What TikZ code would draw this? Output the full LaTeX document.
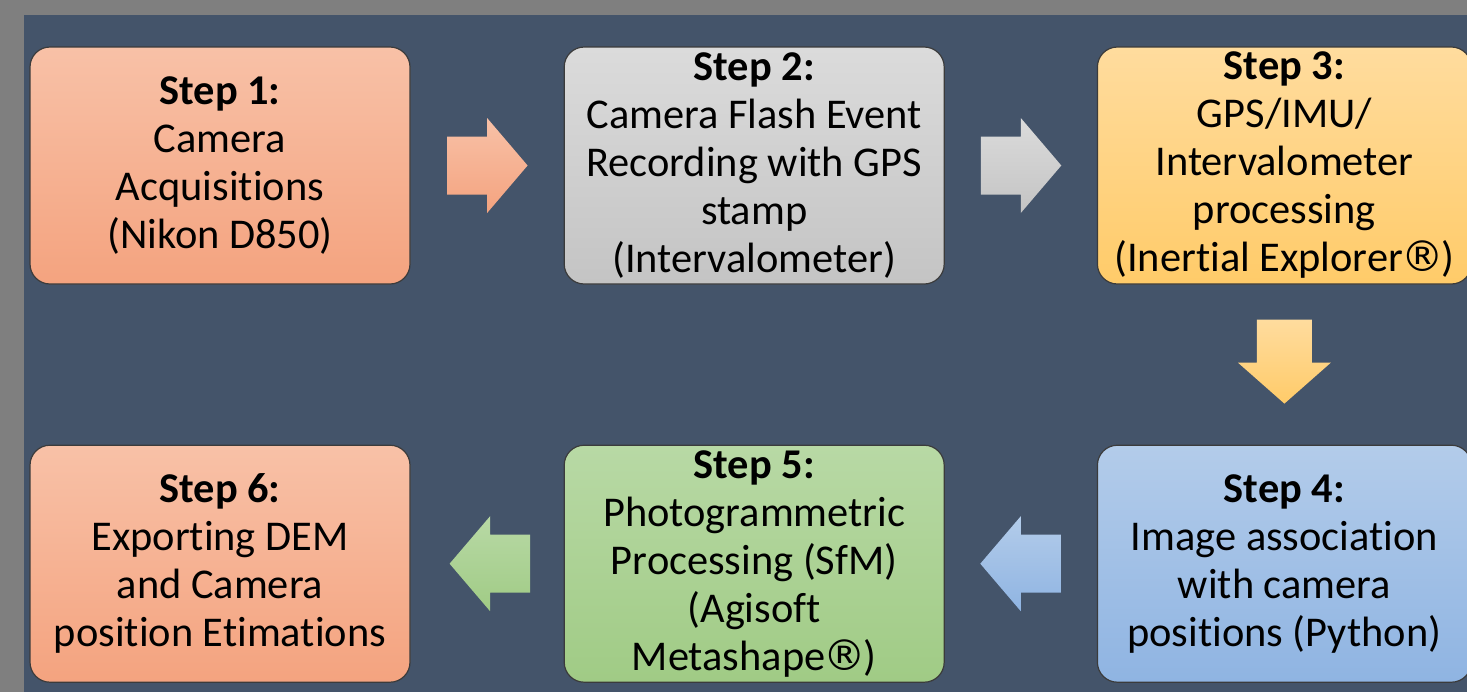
\documentclass[tikz,border=0pt]{standalone}
\usepackage{fontspec}
\setmainfont{Carlito}[Ligatures=NoCommon]
\newfontfamily\regfont{DejaVu Sans}
\usepackage{tikz}
\usepackage{xcolor}
\usetikzlibrary{positioning,calc}
\definecolor{slate}{HTML}{44546A}
\definecolor{frame}{HTML}{7F7F7F}
\definecolor{edge}{HTML}{3B3B3B}
\definecolor{peachtop}{HTML}{F8C1A7}
\definecolor{peachbot}{HTML}{F4A37F}
\definecolor{greytop}{HTML}{DBDBDB}
\definecolor{greybot}{HTML}{C4C4C4}
\definecolor{sandtop}{HTML}{FFDC9E}
\definecolor{sandbot}{HTML}{FFCB69}
\definecolor{skytop}{HTML}{B3CCEA}
\definecolor{skybot}{HTML}{8FB4E2}
\definecolor{sagetop}{HTML}{B8D9A5}
\definecolor{sagebot}{HTML}{A0CB85}
\newcommand{\regmark}{{\regfont\kern-1pt®\kern-1pt}}

\begin{document}
\begin{tikzpicture}[x=0.5pt,y=-0.5pt,
  stepbox/.style={draw=edge,line width=0.6pt,rounded corners=10pt,inner sep=0pt,
    minimum width=190pt,minimum height=118.5pt,align=center,
    font=\fontsize{21.2}{24}\selectfont},
  peach/.style={top color=peachtop,bottom color=peachbot},
  grey/.style={top color=greytop,bottom color=greybot},
  sand/.style={top color=sandtop,bottom color=sandbot},
  sky/.style={top color=skytop,bottom color=skybot},
  sage/.style={top color=sagetop,bottom color=sagebot}]
 \useasboundingbox (0,0) rectangle (1467,692);
 \fill[frame] (0,0) rectangle (1467,692);
 \fill[slate] (24,15) rectangle (1467,692);
 % top row, left to right
 \node[stepbox,peach] (s1) at (220,165.5)
 {\textbf{Step 1:}\\Camera\\Acquisitions\\(Nikon D850)};
 \node[stepbox,grey,right=76.5pt of s1] (s2)
 {\textbf{Step 2:}\\Camera Flash Event\\Recording with GPS\\stamp\\(Intervalometer)};
 \node[stepbox,sand,minimum width=187pt,right=76pt of s2] (s3)
 {\textbf{Step 3:}\\GPS/IMU/\\Intervalometer\\processing\\(Inertial Explorer\regmark)};
 % bottom row, right to left
 \node[stepbox,sky,minimum width=187pt,below=80pt of s3] (s4)
 {\textbf{Step 4:}\\Image association\\with camera\\positions (Python)};
 \node[stepbox,sage,left=76pt of s4] (s5)
 {\textbf{Step 5:}\\Photogrammetric\\Processing (SfM)\\(Agisoft\\Metashape\regmark)};
 \node[stepbox,peach,left=76.5pt of s5] (s6)
 {\textbf{Step 6:}\\Exporting DEM\\and Camera\\position Etimations};
 % block arrows between the steps
 \path[peach] ($(s1.east)!0.5!(s2.west)$) coordinate (a12)
   ++(-40,-29) -- ++(40,0) -- ++(0,-18.5) -- ++(40.5,47.5) -- ++(-40.5,47.5)
   -- ++(0,-18.5) -- ++(-40,0) -- cycle;
 \path[grey] ($(s2.east)!0.5!(s3.west)$) coordinate (a23)
   ++(-40,-29) -- ++(40,0) -- ++(0,-18.5) -- ++(40.5,47.5) -- ++(-40.5,47.5)
   -- ++(0,-18.5) -- ++(-40,0) -- cycle;
 \path[sand] ($(s3.south)!0.5!(s4.north)$) coordinate (a34)
   ++(-27.5,-45) -- ++(0,43) -- ++(-19,0) -- ++(46.5,41) -- ++(46.5,-41)
   -- ++(-19,0) -- ++(0,-43) -- cycle;
 \path[sky] ($(s4.west)!0.5!(s5.east)$) coordinate (a45)
   ++(40,-29) -- ++(-40,0) -- ++(0,-18.5) -- ++(-40.5,47.5) -- ++(40.5,47.5)
   -- ++(0,-18.5) -- ++(40,0) -- cycle;
 \path[sage] ($(s5.west)!0.5!(s6.east)$) coordinate (a56)
   ++(43,-29) -- ++(-40,0) -- ++(0,-18.5) -- ++(-40.5,47.5) -- ++(40.5,47.5)
   -- ++(0,-18.5) -- ++(40,0) -- cycle;
\end{tikzpicture}
\end{document}
